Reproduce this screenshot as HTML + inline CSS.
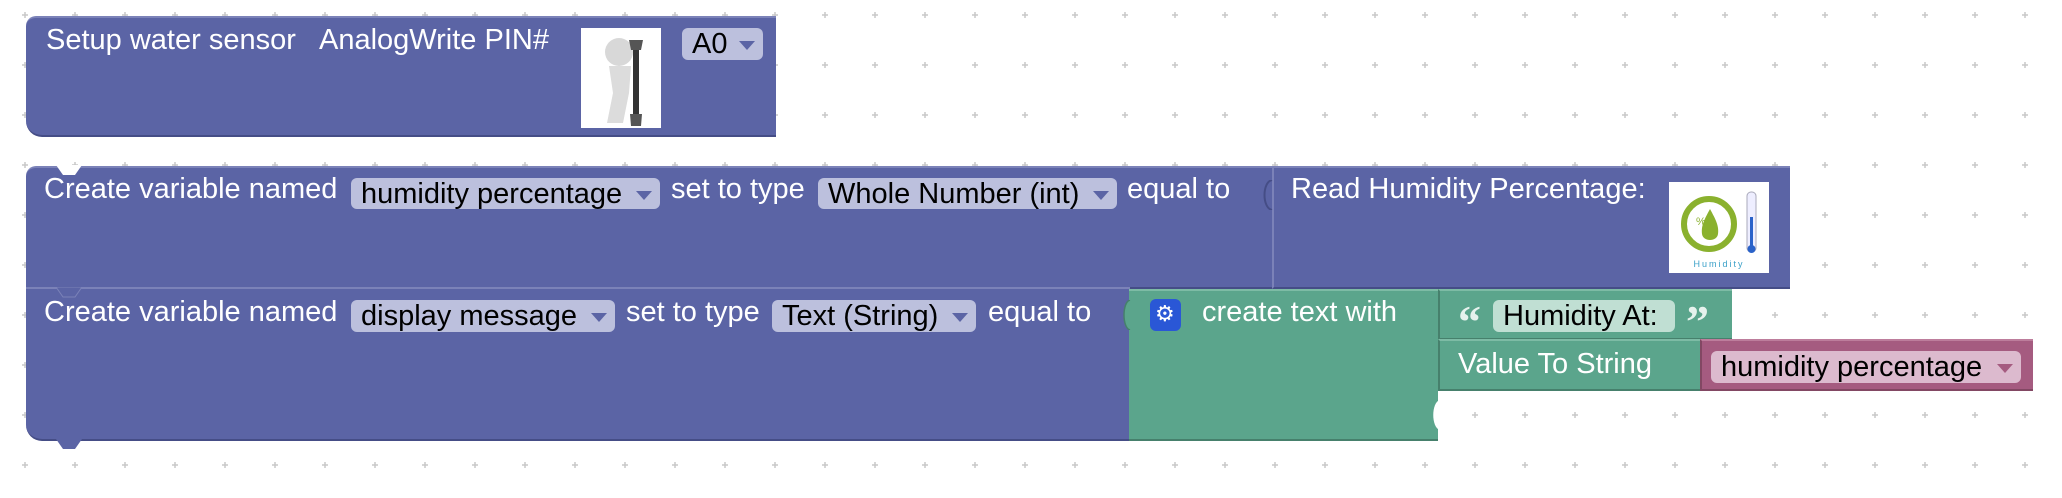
<!DOCTYPE html>
<html><head><meta charset="utf-8"><style>
html,body{margin:0;padding:0;}
body{width:2062px;height:498px;position:relative;overflow:hidden;background:#fff;font-family:"Liberation Sans",Arial,sans-serif;}
.b{position:absolute;box-sizing:border-box;}
.p{background:#5b64a5;border-bottom:2px solid #454d86;border-top:2px solid #7b82b8;}
.g{background:#5ba58c;border-bottom:2px solid #46806c;border-top:2px solid #7dbba5;}
.k{background:#a55b80;border-bottom:2px solid #824763;border-top:2px solid #bd7d9c;}
.t{position:absolute;color:#fff;font-size:29px;line-height:1;white-space:nowrap;}
.f{position:absolute;box-sizing:border-box;border-radius:6px;color:#000;font-size:29px;line-height:32px;padding-left:10px;white-space:nowrap;}
.fp{background:#bcc0dd;}
.fg{background:#c0dfd3;}
.fk{background:#dcbace;}
.q{position:absolute;color:#e6f2ed;font-family:"Liberation Serif",serif;font-weight:bold;font-size:46px;line-height:1;}
.arr{position:absolute;right:8px;top:13px;width:0;height:0;border-left:8px solid transparent;border-right:8px solid transparent;border-top:9px solid #5b64a5;}
</style></head><body>
<svg class="b" style="left:0;top:0" width="2062" height="498">
<defs><pattern id="gr" x="0" y="0" width="50" height="50" patternUnits="userSpaceOnUse">
<path d="M25 12v6M22 15h6" stroke="#c8c8c8" stroke-width="1.5"/></pattern></defs>
<rect width="2062" height="498" fill="url(#gr)"/>
</svg>

<!-- Block 1 -->
<div class="b p" style="left:26px;top:16px;width:750px;height:121px;border-radius:10px 0 0 16px;"></div>
<div class="t" style="left:46px;top:26px;">Setup water sensor</div>
<div class="t" style="left:319px;top:26px;">AnalogWrite PIN#</div>
<svg class="b" style="left:581px;top:28px" width="80" height="100">
<rect width="80" height="100" fill="#fff"/>
<circle cx="38" cy="24" r="14" fill="#d8d8d8"/>
<path d="M28 38 L50 38 L48 65 L42 95 L26 95 L32 65 Z" fill="#dcdcdc"/>
<rect x="52" y="20" width="6" height="70" fill="#333"/>
<path d="M48 12 L62 12 L60 22 L50 22 Z M49 86 L61 86 L60 98 L50 98 Z" fill="#555"/>
</svg>
<div class="f fp" style="left:682px;top:28px;width:81px;height:32px;">A0<span class="arr"></span></div>

<!-- Block 2 -->
<div class="b p" style="left:26px;top:166px;width:1246px;height:123px;border-radius:10px 0 0 0;"></div>
<svg class="b" style="left:56px;top:165px" width="26" height="12"><path d="M0 0 L7 10 L19 10 L26 0Z" fill="#fff"/></svg>
<div class="t" style="left:44px;top:175px;">Create variable named</div>
<div class="f fp" style="left:351px;top:178px;width:309px;height:31px;">humidity percentage<span class="arr"></span></div>
<div class="t" style="left:671px;top:175px;">set to type</div>
<div class="f fp" style="left:818px;top:178px;width:299px;height:31px;">Whole Number (int)<span class="arr"></span></div>
<div class="t" style="left:1127px;top:175px;">equal to</div>
<div class="b p" style="left:1272px;top:166px;width:518px;height:123px;border-left:2px solid #7b82b8;"></div>
<svg class="b" style="left:1258px;top:180px" width="16" height="30"><path d="M14 0 C4 2 4 28 14 30" stroke="#454d86" stroke-width="2" fill="#5b64a5"/></svg>
<div class="t" style="left:1291px;top:175px;">Read Humidity Percentage:</div>
<svg class="b" style="left:1669px;top:182px" width="100" height="91">
<rect width="100" height="91" fill="#fff"/>
<circle cx="40" cy="42" r="25" fill="none" stroke="#8ab12e" stroke-width="6"/>
<path d="M41 27 C35 38 32 44 33 52 C34 60 48 60 49 52 C50 44 47 38 41 27Z" fill="#8ab12e"/>
<text x="27" y="43" font-size="11" fill="#8ab12e" font-family="Liberation Sans">%</text>
<rect x="78" y="10" width="9" height="60" rx="4" fill="#eef" stroke="#aab"/>
<rect x="81" y="35" width="3" height="30" fill="#2a62c9"/>
<circle cx="82.5" cy="67" r="4" fill="#2a62c9"/>
<text x="50" y="85" font-size="9" fill="#3aa0c8" text-anchor="middle" font-family="Liberation Sans" letter-spacing="2">Humidity</text>
</svg>

<!-- Block 3 -->
<div class="b p" style="left:26px;top:287px;width:1104px;height:154px;border-radius:0 0 0 16px;"></div>
<svg class="b" style="left:56px;top:287px" width="26" height="12"><path d="M0 0 L7 10 L19 10 L26 0Z" fill="#5b64a5" stroke="#7b82b8" stroke-width="1"/></svg>
<svg class="b" style="left:56px;top:439px" width="26" height="12"><path d="M0 0 L7 10 L19 10 L26 0Z" fill="#5b64a5"/></svg>
<div class="t" style="left:44px;top:298px;">Create variable named</div>
<div class="f fp" style="left:351px;top:300px;width:264px;height:32px;">display message<span class="arr"></span></div>
<div class="t" style="left:626px;top:298px;">set to type</div>
<div class="f fp" style="left:772px;top:300px;width:204px;height:32px;">Text (String)<span class="arr"></span></div>
<div class="t" style="left:988px;top:298px;">equal to</div>

<!-- green create text -->
<div class="b g" style="left:1129px;top:289px;width:309px;height:152px;"></div>
<svg class="b" style="left:1116px;top:300px" width="16" height="30"><path d="M14 0 C6 2 6 28 14 30" stroke="#46806c" stroke-width="1.5" fill="#5ba58c"/></svg>
<div class="b" style="left:1150px;top:299px;width:31px;height:32px;background:#2a57d6;border-radius:6px;"></div>
<div class="t" style="left:1155px;top:303px;font-size:22px;">⚙</div>
<div class="t" style="left:1202px;top:298px;">create text with</div>
<svg class="b" style="left:1426px;top:400px" width="14" height="30"><path d="M14 0 C5 2 5 28 14 30Z" fill="#fff"/></svg>

<!-- text block -->
<div class="b g" style="left:1438px;top:289px;width:294px;height:51px;border-left:2px solid #46806c;"></div>
<div class="q" style="left:1458px;top:299px;">“</div>
<div class="f fg" style="left:1493px;top:300px;width:182px;height:32px;">Humidity At:</div>
<div class="q" style="left:1686px;top:299px;">”</div>

<!-- value to string -->
<div class="b g" style="left:1438px;top:339px;width:262px;height:52px;border-left:2px solid #46806c;"></div>
<div class="t" style="left:1458px;top:350px;">Value To String</div>
<div class="b k" style="left:1700px;top:339px;width:333px;height:52px;border-left:2px solid #824763;"></div>
<div class="f fk" style="left:1711px;top:351px;width:310px;height:32px;">humidity percentage<span class="arr" style="border-top-color:#a55b80"></span></div>
</body></html>
